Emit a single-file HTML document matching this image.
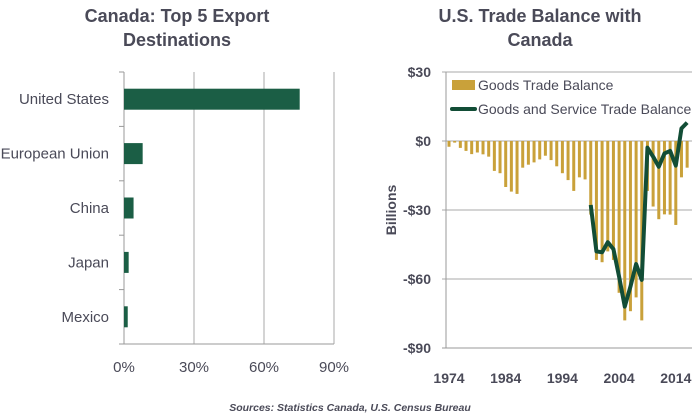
<!DOCTYPE html>
<html><head><meta charset="utf-8"><style>
html,body{margin:0;background:#fff;overflow:hidden;width:700px;height:417px;}
svg{display:block;}
svg text{font-family:"Liberation Sans",sans-serif;fill:#4a4a58;}
</style></head><body>
<svg width="700" height="417">
<text x="177" y="22" text-anchor="middle" font-size="18" font-weight="bold">Canada: Top 5 Export</text>
<text x="177" y="46" text-anchor="middle" font-size="18" font-weight="bold">Destinations</text>
<text x="540" y="22" text-anchor="middle" font-size="18" font-weight="bold">U.S. Trade Balance with</text>
<text x="540" y="46" text-anchor="middle" font-size="18" font-weight="bold">Canada</text>
<g id="left"></g>
<g id="right"></g>
<text x="350" y="411" text-anchor="middle" font-size="10.5" font-weight="bold" font-style="italic">Sources:  Statistics Canada, U.S. Census Bureau</text>
</svg>
<script>
const countries=["United States","European Union","China","Japan","Mexico"];
const shares=[75.3,8.0,4.1,2.0,1.6];
const xTicks=[0,30,60,90];
const years=[1974,1975,1976,1977,1978,1979,1980,1981,1982,1983,1984,1985,1986,1987,1988,1989,1990,1991,1992,1993,1994,1995,1996,1997,1998,1999,2000,2001,2002,2003,2004,2005,2006,2007,2008,2009,2010,2011,2012,2013,2014,2015,2016];
const goods=[-2.5,-0.7,-3,-4.3,-5.7,-5,-5.8,-6.8,-13,-14,-20,-22,-23,-11.6,-10.3,-9.3,-8,-6.4,-8.3,-11,-14,-17,-21.7,-15.8,-16.7,-32,-51.7,-52.7,-48,-51.7,-66,-78,-74,-68,-78,-21.7,-28.5,-34,-31.9,-32,-36.5,-15.8,-11.6];
const gsYears=[1999,2000,2001,2002,2003,2004,2005,2006,2007,2008,2009,2010,2011,2012,2013,2014,2015,2016];
const gsVals=[-27.8,-48,-48.4,-44,-47,-59,-72,-63.3,-53.5,-60.4,-2.9,-6.8,-11.2,-5.4,-4.3,-10.7,5.5,8];
const yTicks=[30,0,-30,-60,-90];
const yearLabels=[1974,1984,1994,2004,2014];
const NS="http://www.w3.org/2000/svg";
function mk(p,t,a,txt){const e=document.createElementNS(NS,t);for(const k in a)e.setAttribute(k,a[k]);if(txt!==undefined)e.textContent=txt;p.appendChild(e);return e;}
// left
const L=document.getElementById('left');
const lx=v=>124+v*(210/90), plotTop=72, plotBot=344, rowH=(plotBot-plotTop)/countries.length;
xTicks.forEach(t=>{
 const g=mk(L,'line',{x1:lx(t),x2:lx(t),y1:plotTop,y2:plotBot,stroke:t===0?'#999':'#aaa','stroke-width':1});
 
 
 const tx=mk(L,'text',{x:lx(t),y:372,'text-anchor':'middle','font-size':15},t+'%');
 
 
});
mk(L,'line',{x1:119,x2:lx(90),y1:plotBot,y2:plotBot,stroke:'#999'});
for(let i=0;i<=countries.length;i++){mk(L,'line',{x1:119,x2:124,y1:plotTop+i*rowH,y2:plotTop+i*rowH,stroke:'#999'});}
countries.forEach((c,i)=>{
 const cy=plotTop+rowH*(i+0.5);
 const r=mk(L,'rect',{x:lx(0),y:cy-10.5,width:lx(shares[i])-lx(0),height:21,fill:'#1b5e45'});
 
 
 const t=mk(L,'text',{x:109,y:cy+5,'text-anchor':'end','font-size':15},c);
 
 
});
// right
const R=document.getElementById('right');
const x0=446,x1=692,step=5.67;
const yx=y=>449+(y-1974)*step, yv=v=>141-v*2.3;
yTicks.forEach(t=>{
 mk(R,'line',{x1:x0-4,x2:x1,y1:yv(t),y2:yv(t),stroke:t===-90?'#999':'#aaa'});
 const tx=mk(R,'text',{x:431,y:yv(t)+5,'text-anchor':'end','font-size':14,'font-weight':'bold'},(t<0?'-$':'$')+Math.abs(t));
 
 
});
mk(R,'line',{x1:x0,x2:x0,y1:yv(30),y2:yv(-90),stroke:'#999'});
yearLabels.forEach(y=>{
 const t=mk(R,'text',{x:yx(y),y:383,'text-anchor':'middle','font-size':14,'font-weight':'bold'},y);
 
 
});
const yt=mk(R,'text',{x:0,y:0,'text-anchor':'middle','font-size':14,'font-weight':'bold',transform:'translate(396,210) rotate(-90)'},'Billions');


years.forEach((y,i)=>{
 const v=goods[i];
 const r=mk(R,'rect',{x:yx(y)-1.5,y:Math.min(yv(0),yv(v)),width:3,height:Math.abs(yv(v)-yv(0)),fill:'#c9a13a'});
 
 
});
const pts=gsYears.map((y,i)=>yx(y)+','+yv(gsVals[i])).join(' ');
const pl=mk(R,'polyline',{points:pts,fill:'none',stroke:'#124d36','stroke-width':4,'stroke-linejoin':'round'});


const sw=mk(R,'rect',{x:452,y:80,width:23,height:10,fill:'#c9a13a'});


const lt1=mk(R,'text',{x:478,y:90,'font-size':14},'Goods Trade Balance');


const sl=mk(R,'line',{x1:452,x2:475,y1:109,y2:109,stroke:'#124d36','stroke-width':4,'stroke-linecap':'round'});


const lt2=mk(R,'text',{x:478,y:114,'font-size':14},'Goods and Service Trade Balance');


</script>
</body></html>
